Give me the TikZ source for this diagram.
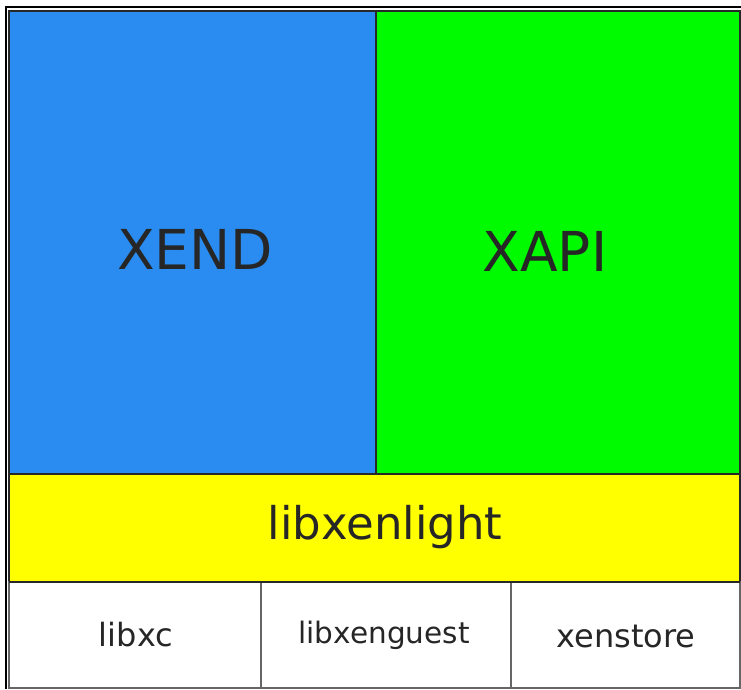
\documentclass[tikz,border=0pt]{standalone}
\usepackage{fontspec}
\setmainfont{DejaVu Sans}
\definecolor{xblue}{RGB}{42,140,240}
\definecolor{xgreen}{RGB}{0,250,0}
\definecolor{xyellow}{RGB}{255,255,0}
\definecolor{xline}{RGB}{40,40,40}
\begin{document}
\begin{tikzpicture}[x=1pt,y=-1pt,
  cell/.style={draw=xline,line width=2pt,inner sep=0pt,outer sep=0pt},
  lbl/.style={inner sep=0pt,text=black!85}]
\useasboundingbox (0,0) rectangle (741,690);
\fill[white] (0,0) rectangle (741,690);
% cells
\filldraw[cell,fill=xblue] (9,11) rectangle (376,474);
\filldraw[cell,fill=xgreen] (376,11) rectangle (740,474);
\filldraw[cell,fill=xyellow] (9,474) rectangle (740,582);
\filldraw[cell,draw=black!60,fill=white] (9,582) rectangle (261,688);
\filldraw[cell,draw=black!60,fill=white] (261,582) rectangle (511,688);
\filldraw[cell,draw=black!60,fill=white] (511,582) rectangle (740,688);
\draw[xline,line width=2pt] (9,582) -- (740,582);
% outer frame
\draw[black,line width=2pt] (6,689) -- (6,7) -- (741,7);
% labels
\node[lbl,font=\fontsize{55}{60}\selectfont] (xend) at (195,249) {XEND};
\node[lbl,font=\fontsize{55}{60}\selectfont] (xapi) at (545,251) {XAPI};
\node[lbl,font=\fontsize{45}{50}\selectfont] (lxl) at (385,527) {libxenlight};
\node[lbl,font=\fontsize{32}{36}\selectfont] (lxc) at (136,635) {libxc};
\node[lbl,font=\fontsize{29.5}{34}\selectfont] (lxg) at (384,635) {libxenguest};
\node[lbl,font=\fontsize{32}{36}\selectfont] (xs) at (626,636) {xenstore};
\end{tikzpicture}
\end{document}
